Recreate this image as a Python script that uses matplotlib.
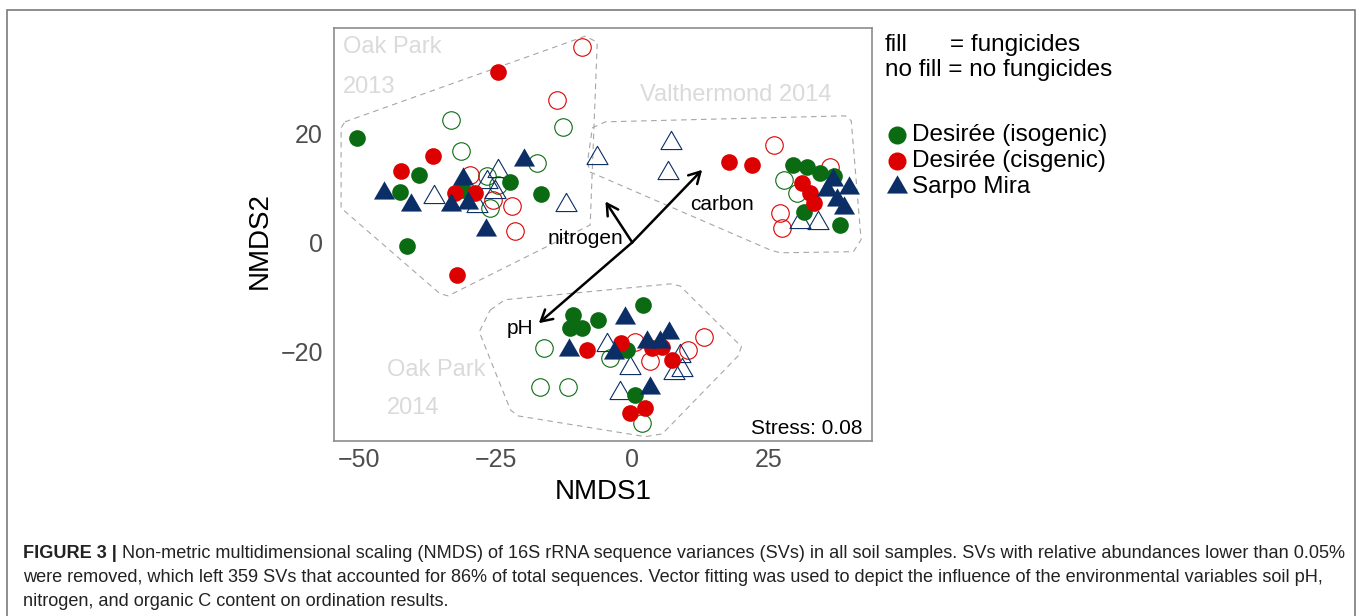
import matplotlib
matplotlib.use("Agg")
import matplotlib.pyplot as plt
from matplotlib.lines import Line2D
from matplotlib.patches import Rectangle
from matplotlib.path import Path

plt.rcParams["font.family"] = ["Liberation Sans", "DejaVu Sans"]

# ---- NMDS scores ----
# Desiree (isogenic), with fungicides (filled green)
iso_f_x = [-50.3, -39.0, -42.6, -22.3, -16.7, -41.2, -30.9,
           29.5, 32.0, 34.3, 31.5, 38.1, 36.9,
           2.0, -10.9, -6.2, -11.4, -9.2, -1.0, 0.5]
iso_f_y = [19.2, 12.4, 9.3, 11.1, 8.8, -0.6, 9.6,
           14.2, 13.9, 12.7, 5.6, 3.2, 12.1,
           -11.4, -13.3, -14.3, -15.7, -15.7, -19.8, -27.9]
# Desiree (isogenic), no fungicides (open green)
iso_n_x = [-33.2, -31.4, -12.6, -17.5, -26.6, -26.0, -24.5,
           27.7, 30.2,
           -16.1, -16.8, -11.8, 1.8, -4.0]
iso_n_y = [22.4, 16.8, 21.2, 14.5, 12.1, 6.3, 10.5,
           11.4, 9.0,
           -19.4, -26.5, -26.5, -33.1, -21.2]
# Desiree (cisgenic), with fungicides (filled red)
cis_f_x = [-24.5, -36.5, -42.3, -32.4, -28.8, -32.0,
           17.8, 21.9, 31.1, 32.6, 33.2,
           -8.3, -2.1, -0.4, 2.4, 7.3, 3.6, 5.4]
cis_f_y = [31.3, 15.8, 13.1, 9.0, 9.0, -6.0,
           14.8, 14.2, 10.8, 9.0, 7.2,
           -19.7, -18.5, -31.3, -30.4, -21.5, -19.4, -19.1]
# Desiree (cisgenic), no fungicides (open red)
cis_n_x = [-9.2, -13.8, -22.0, -21.4, -25.4, -29.7,
           26.0, 27.1, 27.4, 36.3,
           13.1, 10.3, 3.3, 0.5]
cis_n_y = [35.9, 26.1, 6.6, 2.0, 7.8, 12.4,
           17.9, 5.3, 2.6, 13.9,
           -17.3, -19.7, -21.8, -18.2]
# Sarpo Mira, with fungicides (filled navy)
sar_f_x = [-45.4, -40.5, -31.0, -33.2, -30.0, -19.8, -26.7,
           35.7, 39.6, 37.5, 38.7, 36.8,
           -1.3, -11.5, -3.4, 2.7, 6.8, 5.1, 3.2]
sar_f_y = [9.0, 6.9, 11.6, 6.9, 7.2, 15.1, 2.3,
           9.6, 9.9, 7.8, 6.3, 11.4,
           -13.9, -19.7, -20.2, -18.2, -16.6, -18.2, -26.7]
# Sarpo Mira, no fungicides (open navy)
sar_n_x = [-36.3, -12.1, -28.4, -26.6, -24.5, -25.1,
           -6.5, 7.1, 6.5, 30.8, 34.1,
           -4.6, -0.4, -2.3, 7.6, 9.1, 8.8]
sar_n_y = [8.4, 6.9, 6.6, 11.1, 13.0, 9.3,
           15.4, 18.2, 12.8, 3.8, 3.5,
           -18.8, -23.0, -27.6, -24.0, -23.4, -20.9]

# site outlines (dashed hulls)
hull_op13_x = [-52.6, -8.6, -6.4, -7.7, -33.7, -35.2, -53.3, -53.3]
hull_op13_y = [22.1, 37.8, 36.7, 3.2, -9.8, -9.4, 6.3, 21.0]
hull_val_x = [-7.3, -4.9, 39.0, 40.1, 41.9, 40.5, 27.1, 25.3, -7.7, -8.2]
hull_val_y = [21.0, 22.1, 23.2, 22.3, 0.5, -1.7, -1.9, -1.4, 12.9, 14.7]
hull_op14_x = [-26.0, -23.3, 7.0, 8.8, 20.0, 19.4, 5.5, 2.4, -20.9, -22.3, -28.0]
hull_op14_y = [-12.4, -10.5, -7.6, -8.0, -19.1, -20.8, -35.1, -35.6, -31.8, -30.7, -16.4]

# fitted environmental vectors
env_names = ["carbon", "nitrogen", "pH"]
env_x = [12.8, -4.9, -17.1]
env_y = [13.3, 7.5, -14.8]
env_lbl_x = [16.4, -8.6, -20.6]
env_lbl_y = [6.9, 0.8, -15.7]

GREEN = "#0b6b12"
RED = "#dc0000"
NAVY = "#0c2e66"
W, H = 1357, 616

fig = plt.figure(figsize=(W / 100, H / 100), dpi=100)
ax = fig.add_axes([334 / W, 1 - 441 / H, (872 - 334) / W, (441 - 28) / H])
ax.set_xlim(-54.6, 43.9)
ax.set_ylim(-36.4, 39.3)

# equilateral triangle, closed so the open version gets all three sides
tri = Path([(0, 1.155), (-1, -0.577), (1, -0.577), (0, 1.155)],
           [Path.MOVETO, Path.LINETO, Path.LINETO, Path.CLOSEPOLY])

# hulls
for hx, hy in [(hull_op13_x, hull_op13_y), (hull_val_x, hull_val_y), (hull_op14_x, hull_op14_y)]:
    ax.plot(hx + hx[:1], hy + hy[:1], color="#a6a6a6", lw=0.8, ls=(0, (5, 4)), zorder=1)

# site labels
site_kw = dict(color="#dadada", fontsize=17, ha="left", va="center", zorder=1)
ax.text(-52.9, 35.8, "Oak Park", **site_kw)
ax.text(-52.9, 28.5, "2013", **site_kw)
ax.text(1.5, 27.0, "Valthermond 2014", **site_kw)
ax.text(-44.9, -23.4, "Oak Park", **site_kw)
ax.text(-44.9, -30.3, "2014", **site_kw)

# points
ax.plot(iso_n_x, iso_n_y, "o", ms=12.6, mfc="none", mec=GREEN, mew=0.8, zorder=3)
ax.plot(cis_n_x, cis_n_y, "o", ms=12.6, mfc="none", mec=RED, mew=0.8, zorder=3)
ax.plot(sar_n_x, sar_n_y, ls="none", marker=tri, ms=17.5, mfc="none", mec=NAVY, mew=0.8, zorder=3)
ax.plot(iso_f_x, iso_f_y, "o", ms=12, color=GREEN, mew=0, zorder=4)
ax.plot(cis_f_x, cis_f_y, "o", ms=12, color=RED, mew=0, zorder=4)
ax.plot(sar_f_x, sar_f_y, ls="none", marker=tri, ms=17.5, color=NAVY, mew=0, zorder=5)

# environmental vectors
for name, vx, vy, lx, ly in zip(env_names, env_x, env_y, env_lbl_x, env_lbl_y):
    ax.annotate("", xy=(vx, vy), xytext=(0, 0), zorder=6,
                arrowprops=dict(arrowstyle="->,head_length=0.8,head_width=0.45",
                                lw=1.8, color="black", shrinkA=0, shrinkB=0))
    ax.text(lx, ly, name, fontsize=15, ha="center", va="center", zorder=6)

ax.text(1 - 10 / 538, 3 / 413, "Stress: 0.08", transform=ax.transAxes,
        fontsize=15, ha="right", va="bottom")

ax.set_xticks([-50, -25, 0, 25])
ax.set_yticks([-20, 0, 20])
ax.tick_params(length=0, labelsize=18, labelcolor="#4d4d4d")
ax.tick_params(axis="x", pad=5)
ax.tick_params(axis="y", pad=8)
for s in ax.spines.values():
    s.set_color("#8c8c8c")
    s.set_linewidth(1.2)

fig.text(603 / W, 1 - 492 / H, "NMDS1", fontsize=20, ha="center", va="center")
fig.text(260 / W, 1 - 241 / H, "NMDS2", fontsize=20, rotation=90, ha="center", va="center")

# legend
fig.text(885 / W, 1 - 45 / H, "fill", fontsize=17.5, va="center")
fig.text(950 / W, 1 - 45 / H, "= fungicides", fontsize=17.5, va="center")
fig.text(885 / W, 1 - 70 / H, "no fill = no fungicides", fontsize=17.5, va="center")
leg = [("Desirée (isogenic)", "o", GREEN, 13, 135),
       ("Desirée (cisgenic)", "o", RED, 13, 161),
       ("Sarpo Mira", tri, NAVY, 17.5, 187)]
for label, mk, col, ms, py in leg:
    fig.add_artist(Line2D([897 / W], [1 - py / H], marker=mk, ms=ms, color=col,
                          mew=0, ls="none", transform=fig.transFigure))
    fig.text(912 / W, 1 - py / H, label, fontsize=17.5, va="center")

# outer frame
fig.add_artist(Rectangle((7 / W, -0.05), (1355 - 7) / W, 1.05 - 10 / H,
                         transform=fig.transFigure, fill=False, ec="#7a7a7a", lw=1.2))

# caption
cap_size = 13.1
t1 = fig.text(23 / W, 1 - 553 / H, "FIGURE 3 | ", fontsize=cap_size, weight="bold",
              va="center", color="#222222")
ax.annotate("Non-metric multidimensional scaling (NMDS) of 16S rRNA sequence variances (SVs) "
            "in all soil samples. SVs with relative abundances lower than 0.05%",
            xy=(1, 0), xycoords=t1, va="bottom", ha="left", fontsize=cap_size,
            color="#222222", annotation_clip=False)
fig.text(23 / W, 1 - 577 / H,
         "were removed, which left 359 SVs that accounted for 86% of total sequences. "
         "Vector fitting was used to depict the influence of the environmental variables soil pH,",
         fontsize=cap_size, va="center", color="#222222")
fig.text(23 / W, 1 - 601 / H, "nitrogen, and organic C content on ordination results.",
         fontsize=cap_size, va="center", color="#222222")

fig.savefig("out.png", dpi=100)
